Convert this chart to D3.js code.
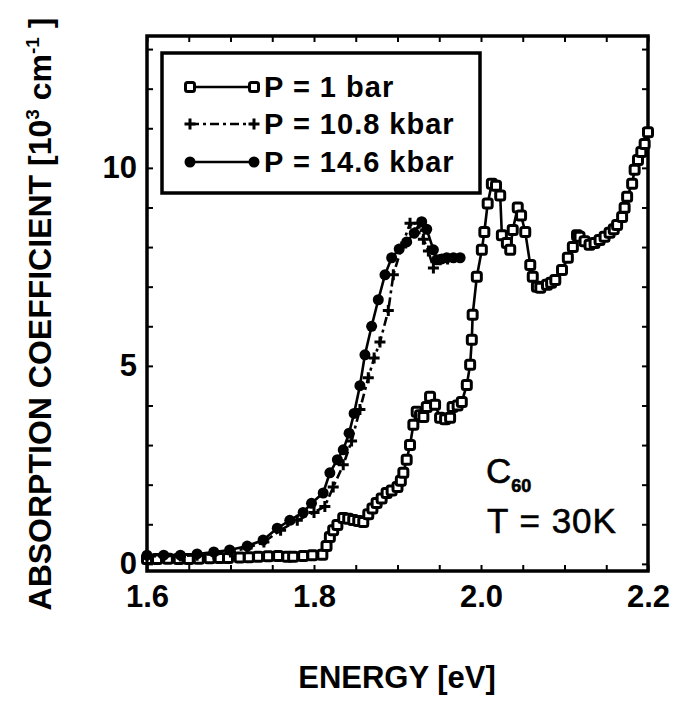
<!DOCTYPE html>
<html>
<head>
<meta charset="utf-8">
<script src="https://cdn.jsdelivr.net/npm/d3@7/dist/d3.min.js"></script>
<style>
  body { margin: 0; background: #fff; }
  svg { display: block; font-family: 'Liberation Sans', Arial, sans-serif; }
  .axis path { display: none; }
  .axis line { stroke: #000; stroke-width: 2; }
  .axis text { font-size: 31px; font-weight: bold; fill: #000; }
</style>
</head>
<body>
<div id="chart"><svg width="674" height="704"></svg></div>
<script>
// energy [eV] / absorption [10^3 cm^-1]
const energy1bar = [1.600, 1.612, 1.625, 1.638, 1.650, 1.662, 1.675, 1.687, 1.697, 1.711,
  1.722, 1.733, 1.745, 1.757, 1.768, 1.775, 1.787, 1.798, 1.810, 1.815,
  1.819, 1.823, 1.828, 1.835, 1.841, 1.847, 1.853, 1.859, 1.865, 1.870,
  1.875, 1.881, 1.887, 1.893, 1.900, 1.904, 1.907, 1.911, 1.915, 1.919,
  1.923, 1.927, 1.931, 1.935, 1.939, 1.945, 1.951, 1.957, 1.963, 1.966,
  1.972, 1.977, 1.983, 1.987, 1.989, 1.990, 1.995, 2.001, 2.004, 2.008,
  2.013, 2.018, 2.023, 2.025, 2.031, 2.035, 2.038, 2.044, 2.048, 2.053,
  2.059, 2.062, 2.067, 2.071, 2.079, 2.084, 2.089, 2.097, 2.104, 2.110,
  2.115, 2.118, 2.124, 2.130, 2.136, 2.142, 2.148, 2.154, 2.159, 2.163,
  2.169, 2.172, 2.175, 2.181, 2.184, 2.188, 2.192, 2.196, 2.200]
const alpha1bar = [0.12, 0.12, 0.13, 0.12, 0.12, 0.13, 0.14, 0.15, 0.15, 0.16,
  0.17, 0.18, 0.19, 0.20, 0.18, 0.18, 0.20, 0.22, 0.23, 0.45,
  0.68, 0.85, 0.98, 1.16, 1.14, 1.11, 1.08, 1.06, 1.25, 1.40,
  1.54, 1.65, 1.79, 1.85, 1.94, 2.10, 2.30, 2.63, 3.00, 3.51,
  3.84, 3.75, 3.71, 3.96, 4.22, 4.02, 3.69, 3.65, 3.69, 3.96,
  4.00, 4.09, 4.52, 5.03, 5.66, 6.29, 7.25, 7.93, 8.38, 9.10,
  9.60, 9.55, 9.30, 8.30, 8.10, 7.93, 8.43, 9.00, 8.80, 8.38,
  7.55, 7.25, 7.00, 6.97, 7.05, 7.10, 7.17, 7.42, 7.73, 8.00,
  8.30, 8.26, 8.15, 8.06, 8.10, 8.18, 8.26, 8.36, 8.45, 8.56,
  8.76, 8.99, 9.27, 9.60, 9.95, 10.20, 10.40, 10.60, 10.90]

const energy108 = [1.600, 1.620, 1.640, 1.660, 1.680, 1.700, 1.720, 1.740, 1.760, 1.780,
  1.800, 1.813, 1.823, 1.835, 1.845, 1.855, 1.865, 1.872, 1.879, 1.889,
  1.895, 1.905, 1.915, 1.921, 1.926, 1.931, 1.937, 1.943, 1.951, 1.960]
const alpha108 = [0.18, 0.20, 0.20, 0.22, 0.25, 0.30, 0.40, 0.55, 0.85, 1.10,
  1.30, 1.45, 1.94, 2.50, 3.10, 3.90, 4.70, 5.20, 5.60, 6.40,
  7.30, 8.00, 8.60, 8.36, 8.60, 8.20, 7.90, 7.47, 7.68, 7.70]

const energy146 = [1.600, 1.620, 1.640, 1.660, 1.680, 1.699, 1.720, 1.739, 1.756, 1.771,
  1.787, 1.797, 1.811, 1.819, 1.828, 1.835, 1.842, 1.848, 1.855, 1.861,
  1.869, 1.877, 1.885, 1.893, 1.902, 1.911, 1.920, 1.929, 1.935, 1.943,
  1.947, 1.953, 1.959, 1.967, 1.975]
const alpha146 = [0.22, 0.22, 0.22, 0.25, 0.30, 0.35, 0.45, 0.60, 0.90, 1.10,
  1.30, 1.53, 1.79, 2.30, 2.63, 2.88, 3.30, 3.80, 4.50, 5.28,
  6.00, 6.67, 7.30, 7.73, 7.95, 8.13, 8.35, 8.64, 8.45, 7.93,
  7.68, 7.70, 7.73, 7.73, 7.73]

const seriesNames = ['P = 1 bar', 'P = 10.8 kbar', 'P = 14.6 kbar']
const xMajorTicks = [1.6, 1.8, 2.0, 2.2]
const yMajorTicks = [0, 5, 10]

const margin = { left: 147, top: 36, right: 26, bottom: 133 }
const width = 674 - margin.left - margin.right
const height = 704 - margin.top - margin.bottom

const x = d3.scaleLinear().domain([1.6, 2.2]).range([0, width])
const y = d3.scaleLinear().domain([-0.18, 13.33]).range([height, 0])

const svg = d3.select('#chart').select('svg')
const g = svg.append('g')
  .attr('transform', 'translate(' + margin.left + ',' + margin.top + ')')

// ticks every 0.05 eV and every 1 unit, pointing inwards on all four sides
const xTicks = d3.range(0, 13).map(i => +(1.6 + i * 0.05).toFixed(2))
const yTicks = d3.range(0, 14)
const isMajorX = d => xMajorTicks.some(t => Math.abs(t - d) < 1e-6)
const fmtX = d => isMajorX(d) ? d.toFixed(1) : ''
const fmtY = d => yMajorTicks.includes(d) ? d : ''

g.append('g').attr('class', 'x axis')
  .attr('transform', 'translate(0,' + height + ')')
  .call(d3.axisBottom(x).tickValues(xTicks).tickSizeInner(-6).tickSizeOuter(0)
    .tickPadding(14).tickFormat(fmtX))
g.append('g').attr('class', 'x axis')
  .call(d3.axisTop(x).tickValues(xTicks).tickSizeInner(-6).tickSizeOuter(0).tickFormat(''))
g.append('g').attr('class', 'y axis')
  .call(d3.axisLeft(y).tickValues(yTicks).tickSizeInner(-6).tickSizeOuter(0)
    .tickPadding(10).tickFormat(fmtY))
g.append('g').attr('class', 'y axis')
  .attr('transform', 'translate(' + width + ',0)')
  .call(d3.axisRight(y).tickValues(yTicks).tickSizeInner(-6).tickSizeOuter(0).tickFormat(''))

g.append('rect')
  .attr('width', width)
  .attr('height', height)
  .attr('fill', 'none')
  .attr('stroke', '#000')
  .attr('stroke-width', 3.5)

const line = d3.line().x(d => x(d[0])).y(d => y(d[1]))
const zip = (a, b) => a.map((v, i) => [v, b[i]])

const series = [
  { data: zip(energy1bar, alpha1bar), dash: null, marker: 'square' },
  { data: zip(energy108, alpha108), dash: '9,4,3,4', marker: 'plus' },
  { data: zip(energy146, alpha146), dash: null, marker: 'circle' }
]

function drawMarker (sel, type) {
  if (type === 'square') {
    sel.append('rect')
      .attr('x', -4.5).attr('y', -4.5).attr('width', 9).attr('height', 9).attr('rx', 2)
      .attr('fill', '#fff').attr('stroke', '#000').attr('stroke-width', 3)
  } else if (type === 'circle') {
    sel.append('circle').attr('r', 5.5).attr('fill', '#000')
  } else {
    sel.append('path').attr('d', 'M-5.5,0H5.5M0,-5.5V5.5')
      .attr('stroke', '#000').attr('stroke-width', 3)
  }
}

const plot = g.append('g').attr('class', 'plot')
series.forEach(s => {
  plot.append('path')
    .datum(s.data)
    .attr('d', line)
    .attr('fill', 'none')
    .attr('stroke', '#000')
    .attr('stroke-width', 2.6)
    .attr('stroke-dasharray', s.dash)
  plot.append('g').selectAll('g')
    .data(s.data)
    .join('g')
    .attr('transform', d => 'translate(' + x(d[0]) + ',' + y(d[1]) + ')')
    .each(function () { drawMarker(d3.select(this), s.marker) })
})

// legend
const legend = svg.append('g').attr('class', 'legend')
legend.append('rect')
  .attr('x', 162).attr('y', 53).attr('width', 318).attr('height', 140)
  .attr('fill', '#fff').attr('stroke', '#000').attr('stroke-width', 3.5)
const rowsY = [87, 124, 162]
series.forEach((s, i) => {
  const row = legend.append('g').attr('transform', 'translate(0,' + rowsY[i] + ')')
  row.append('line')
    .attr('x1', 190).attr('x2', 254)
    .attr('stroke', '#000').attr('stroke-width', 2.6)
    .attr('stroke-dasharray', s.dash)
  ;[190, 254].forEach(px => {
    drawMarker(row.append('g').attr('transform', 'translate(' + px + ',0)'), s.marker)
  })
  row.append('text')
    .attr('x', 264).attr('y', 10)
    .attr('font-size', 29).attr('font-weight', 'bold')
    .attr('letter-spacing', 1)
    .text(seriesNames[i])
})

// annotation
const note = svg.append('g')
const c60 = note.append('text').attr('x', 486).attr('y', 483)
  .attr('font-size', 35).attr('stroke', '#000').attr('stroke-width', 0.6)
c60.append('tspan').text('C')
c60.append('tspan').attr('font-size', 18).attr('dy', 9).attr('font-weight', 'bold').text('60')
note.append('text').attr('x', 487).attr('y', 533)
  .attr('font-size', 35).attr('stroke', '#000').attr('stroke-width', 0.6)
  .attr('letter-spacing', 1)
  .text('T = 30K')

// axis titles
svg.append('text')
  .attr('x', 397).attr('y', 688)
  .attr('text-anchor', 'middle')
  .attr('font-size', 31).attr('font-weight', 'bold')
  .text('ENERGY [eV]')

const yTitle = svg.append('text')
  .attr('transform', 'translate(51,314) rotate(-90)')
  .attr('text-anchor', 'middle')
  .attr('font-size', 32).attr('font-weight', 'bold')
yTitle.append('tspan').text('ABSORPTION COEFFICIENT [10')
yTitle.append('tspan').attr('font-size', 19).attr('dy', -12).text('3')
yTitle.append('tspan').attr('dy', 12).text(' cm')
yTitle.append('tspan').attr('font-size', 19).attr('dy', -12).text('-1')
yTitle.append('tspan').attr('dy', 12).text(' ]')
</script>
</body>
</html>
